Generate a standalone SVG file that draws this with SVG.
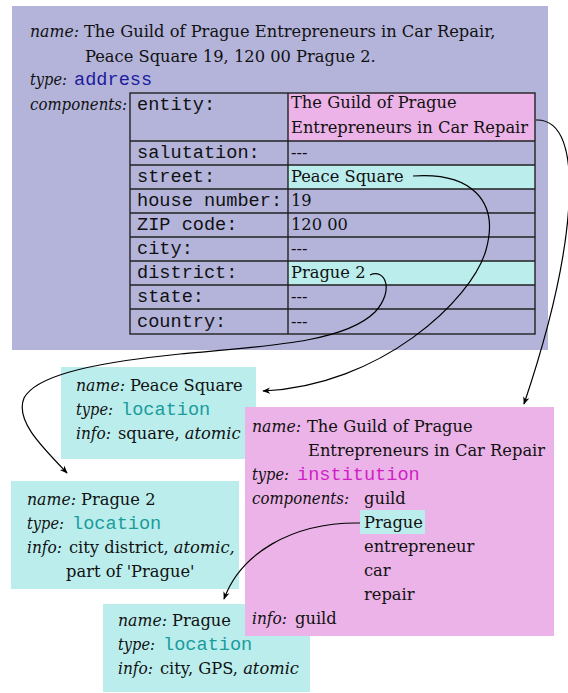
<svg xmlns="http://www.w3.org/2000/svg" width="568" height="693" viewBox="0 0 568 693">
<style>
text{font-family:"DejaVu Serif","Liberation Serif",serif;font-size:16.3px;fill:#111}
.i{font-style:italic}
.m{font-family:"Liberation Mono","DejaVu Sans Mono",monospace;font-size:18.6px}
.addr{fill:#1c1c9c}
.loc{fill:#1a9c9c}
.inst{fill:#d21ec8}
.purple{fill:#b4b4db}
.pink{fill:#ebb3e7}
.cyan{fill:#bbeded}
.grid{stroke:#222;stroke-width:1.4;fill:none}
.conn{fill:none;stroke:#000;stroke-width:1.2}
</style>
<defs>
<marker id="ah" viewBox="0 0 10 10" refX="9" refY="5" markerWidth="8" markerHeight="8" markerUnits="userSpaceOnUse" orient="auto">
<path d="M0,1 L10,5 L0,9 L3,5 Z" fill="#000"/>
</marker>
</defs>

<g id="address">
<rect class="purple" x="12" y="6" width="536" height="344"/>
<text class="i" x="30" y="37" textLength="49" lengthAdjust="spacingAndGlyphs">name:</text>
<text x="84" y="37">The Guild of Prague Entrepreneurs in Car Repair,</text>
<text x="85" y="62">Peace Square 19, 120 00 Prague 2.</text>
<text class="i" x="30" y="85" textLength="37" lengthAdjust="spacingAndGlyphs">type:</text>
<text class="m addr" x="74" y="85">address</text>
<text class="i" x="30" y="110" textLength="97" lengthAdjust="spacingAndGlyphs">components:</text>
<rect class="pink" x="288" y="93" width="247" height="48"/>
<rect class="cyan" x="288" y="165" width="247" height="24"/>
<rect class="cyan" x="288" y="261" width="247" height="24"/>
<rect class="grid" x="130" y="93" width="405" height="241"/>
<path class="grid" d="M288,93V334M130,141H535M130,165H535M130,189H535M130,213H535M130,237H535M130,261H535M130,285H535M130,309H535"/>
<text class="m" x="137" y="110">entity:</text>
<text class="m" x="137" y="158">salutation:</text>
<text class="m" x="137" y="182">street:</text>
<text class="m" x="137" y="206">house number:</text>
<text class="m" x="137" y="230">ZIP code:</text>
<text class="m" x="137" y="254">city:</text>
<text class="m" x="137" y="278">district:</text>
<text class="m" x="137" y="302">state:</text>
<text class="m" x="137" y="327">country:</text>
<text x="291" y="108">The Guild of Prague</text>
<text x="291" y="133">Entrepreneurs in Car Repair</text>
<text x="291" y="158">---</text>
<text x="291" y="182">Peace Square</text>
<text x="291" y="206">19</text>
<text x="291" y="230">120 00</text>
<text x="291" y="254">---</text>
<text x="291" y="278">Prague 2</text>
<text x="291" y="302">---</text>
<text x="291" y="327">---</text>
</g>

<g id="peace-square">
<rect class="cyan" x="61" y="367" width="195" height="92"/>
<text class="i" x="76" y="391" textLength="49" lengthAdjust="spacingAndGlyphs">name:</text>
<text x="130" y="391">Peace Square</text>
<text class="i" x="76" y="415" textLength="37" lengthAdjust="spacingAndGlyphs">type:</text>
<text class="m loc" x="121" y="415">location</text>
<text class="i" x="76" y="439" textLength="35" lengthAdjust="spacingAndGlyphs">info:</text>
<text x="118" y="439">square, <tspan class="i">atomic</tspan></text>
</g>

<g id="prague-2">
<rect class="cyan" x="11" y="481" width="228" height="108"/>
<text class="i" x="27" y="505" textLength="49" lengthAdjust="spacingAndGlyphs">name:</text>
<text x="81" y="505">Prague 2</text>
<text class="i" x="27" y="529" textLength="37" lengthAdjust="spacingAndGlyphs">type:</text>
<text class="m loc" x="72" y="529">location</text>
<text class="i" x="27" y="553" textLength="35" lengthAdjust="spacingAndGlyphs">info:</text>
<text x="69" y="553">city district, <tspan class="i">atomic,</tspan></text>
<text x="66" y="577">part of 'Prague'</text>
</g>

<g id="prague">
<rect class="cyan" x="103" y="604" width="207" height="88"/>
<text class="i" x="118" y="626" textLength="49" lengthAdjust="spacingAndGlyphs">name:</text>
<text x="172" y="626">Prague</text>
<text class="i" x="118" y="650" textLength="37" lengthAdjust="spacingAndGlyphs">type:</text>
<text class="m loc" x="163" y="650">location</text>
<text class="i" x="118" y="674" textLength="35" lengthAdjust="spacingAndGlyphs">info:</text>
<text x="160" y="674">city, GPS, <tspan class="i">atomic</tspan></text>
</g>

<g id="guild">
<rect class="pink" x="245" y="407" width="309" height="229"/>
<rect class="cyan" x="360" y="510" width="65" height="24"/>
<text class="i" x="252" y="432" textLength="49" lengthAdjust="spacingAndGlyphs">name:</text>
<text x="307" y="432">The Guild of Prague</text>
<text x="308" y="456">Entrepreneurs in Car Repair</text>
<text class="i" x="252" y="480" textLength="37" lengthAdjust="spacingAndGlyphs">type:</text>
<text class="m inst" x="297" y="480">institution</text>
<text class="i" x="252" y="504" textLength="97" lengthAdjust="spacingAndGlyphs">components:</text>
<text x="364" y="504">guild</text>
<text x="364" y="528">Prague</text>
<text x="364" y="552">entrepreneur</text>
<text x="364" y="576">car</text>
<text x="364" y="600">repair</text>
<text class="i" x="252" y="624" textLength="35" lengthAdjust="spacingAndGlyphs">info:</text>
<text x="295" y="624">guild</text>
</g>

<g id="connectors">
<path class="conn" marker-end="url(#ah)" d="M536,120 C588,118 576,250 524,404"/>
<path class="conn" marker-end="url(#ah)" d="M413,176 C470,172 500,200 486,250 C472,300 380,386 263,391"/>
<path class="conn" marker-end="url(#ah)" d="M370,275 C385,268 395,290 375,312 C345,342 270,346 180,354 C80,364 35,378 24,398 C15,420 40,445 67,473"/>
<path class="conn" marker-end="url(#ah)" d="M360,523 C290,522 240,555 224,599"/>
</g>
</svg>
